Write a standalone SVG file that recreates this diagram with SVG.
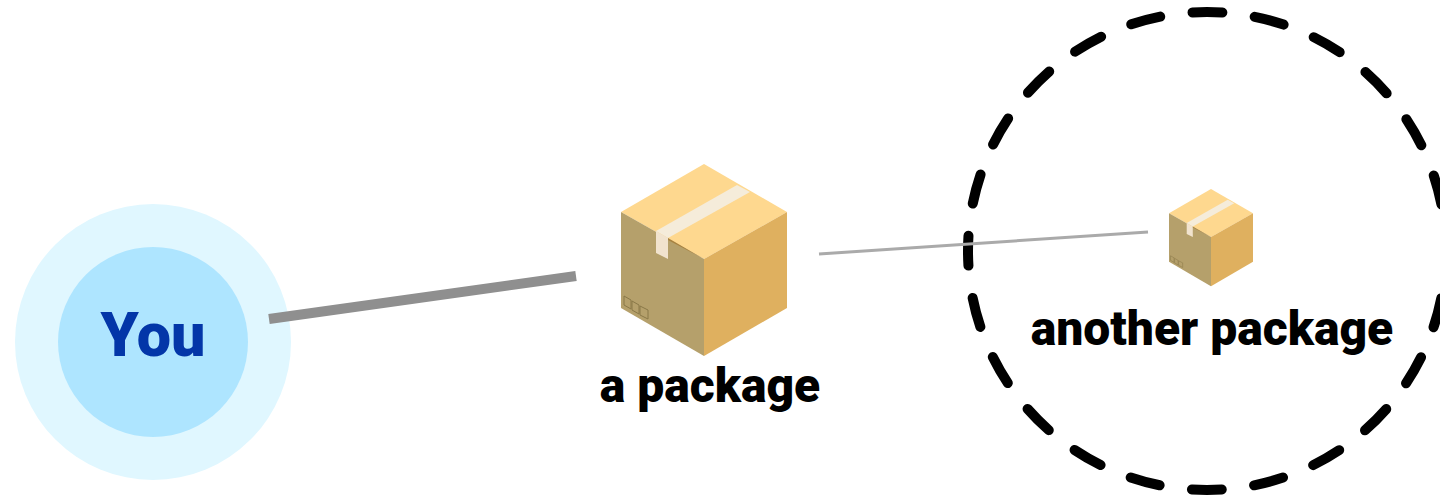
<svg xmlns="http://www.w3.org/2000/svg" width="1440" height="499" viewBox="0 0 1440 499">
<style>
.lbl{font-family:Roboto,"Liberation Sans",sans-serif;font-weight:900;font-size:48px;fill:#000;text-anchor:middle}
.ico{fill:#b5a06b;stroke:#8a7848;stroke-width:1}
</style>
<defs>
<g id="box">
<polygon points="83,0 166,48 83,95 0,48" fill="#fed88f"/>
<polygon points="0,48 83,95 83,192 0,144" fill="#b5a06b"/>
<polygon points="166,48 83,95 83,192 166,144" fill="#dfb05f"/>
<polygon points="116,21 129,28 47,74 35,67" fill="#f5ecda"/>
<polygon points="35,67 47,74 47,95 35,89" fill="#f1e3ce"/>
<polygon points="47,74 83,95 47,76" fill="#a8823f"/>
<polygon class="ico" points="3,132 10,136 10,145 3,141"/>
<polygon class="ico" points="11,137 18,141 18,150 11,146"/>
<polygon class="ico" points="19,142 27,146 27,155 19,151"/>
</g>
</defs>
<g id="you">
<circle cx="153" cy="342" r="138" fill="#e0f7ff"/>
<circle cx="153" cy="342" r="95" fill="#aee5ff"/>
<text x="153" y="356" font-family="Roboto,'Liberation Sans',sans-serif" font-weight="900" font-size="61" fill="#0336a8" text-anchor="middle">You</text>
</g>
<g id="package-a">
<use href="#box" x="621" y="164"/>
<text class="lbl" x="710" y="402">a package</text>
</g>
<g id="package-b">
<circle cx="1207" cy="251" r="239" fill="none" stroke="#000" stroke-width="10" stroke-linecap="round" stroke-dasharray="30 32.57" stroke-dashoffset="15"/>
<use href="#box" transform="translate(1169 189) scale(0.506)"/>
<text class="lbl" x="1212" y="345">another package</text>
</g>
<g id="connectors">
<line x1="269" y1="319" x2="576" y2="276" stroke="#8f8f8f" stroke-width="10"/>
<line x1="819" y1="254" x2="1148" y2="232" stroke="#aaaaaa" stroke-width="3"/>
</g>
</svg>
